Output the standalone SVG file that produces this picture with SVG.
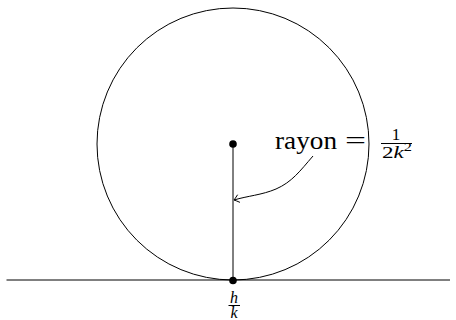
<svg xmlns="http://www.w3.org/2000/svg" width="456" height="320" viewBox="0 0 456 320">
<style>
.ln{fill:none;stroke:#000;stroke-width:1}
.dot{fill:#000}
.t{font-family:"Liberation Serif","DejaVu Serif",serif;fill:#000}
.i{font-style:italic}
</style>
<defs>
<marker id="to" viewBox="-6 -5 8 10" markerWidth="8" markerHeight="10" refX="0" refY="0" orient="auto" markerUnits="userSpaceOnUse">
<path d="M-5,-4 Q-1.5,-1 0,0 Q-1.5,1 -5,4" fill="none" stroke="#000" stroke-width="0.9"/>
</marker>
</defs>
<rect width="456" height="320" fill="#fff"/>
<g id="ground">
<line class="ln" x1="6.5" y1="280" x2="450" y2="280" stroke-width="1.1"/>
</g>
<g id="circle">
<circle class="ln" cx="233" cy="144" r="136"/>
</g>
<g id="connectors">
<line class="ln" x1="233" y1="144" x2="233" y2="280"/>
<path class="ln" d="M313,156 C300,171 292,182 276,189 C262,195 247,196 234,200" marker-end="url(#to)"/>
</g>
<g id="center">
<circle class="dot" cx="233" cy="144" r="3.8"/>
</g>
<g id="contact">
<circle class="dot" cx="233" cy="280.5" r="3.8"/>
</g>
<g id="radius-label">
<text class="t" x="275" y="149" font-size="26" textLength="62" lengthAdjust="spacingAndGlyphs">rayon</text>
<text class="t" x="345" y="149" font-size="26" textLength="21" lengthAdjust="spacingAndGlyphs">=</text>
<text class="t" x="396" y="139.5" font-size="17" text-anchor="middle">1</text>
<line class="ln" x1="381" y1="143.5" x2="412" y2="143.5" stroke-width="0.8"/>
<text class="t" x="382" y="157.5" font-size="17" textLength="30" lengthAdjust="spacingAndGlyphs">2<tspan class="i">k</tspan><tspan font-size="12" dy="-6.5">2</tspan></text>
</g>
<g id="hk-label">
<text class="t i" x="234" y="302.5" font-size="16" text-anchor="middle">h</text>
<line class="ln" x1="228.5" y1="305.5" x2="240" y2="305.5" stroke-width="0.8"/>
<text class="t i" x="234" y="318" font-size="16" text-anchor="middle">k</text>
</g>
</svg>
